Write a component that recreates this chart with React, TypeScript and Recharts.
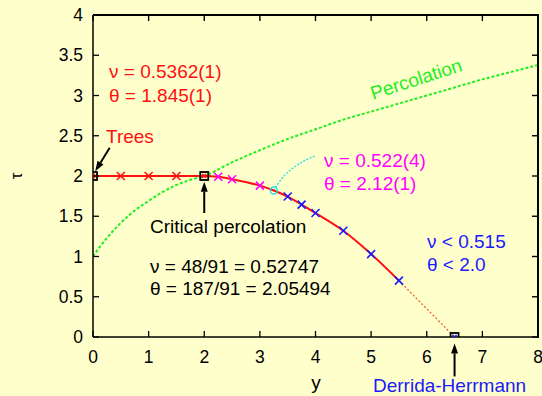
import React from "react";
import { ComposedChart, Line, XAxis, YAxis, ReferenceLine } from "recharts";

const BG = "#ffffcc";
const FONT = "'Liberation Sans', Arial, sans-serif";

const W = 542;
const H = 396;
const M = { top: 15, right: 4, bottom: 0, left: 0 };
const Y_AXIS_W = 93;
const X_AXIS_H = 59;
const PLOT_L = M.left + Y_AXIS_W;
const PLOT_T = M.top;
const PLOT_W = W - M.left - M.right - Y_AXIS_W;
const PLOT_H = H - M.top - M.bottom - X_AXIS_H;

// axis ticks
const xTicks = [0, 1, 2, 3, 4, 5, 6, 7, 8];
const yTicks = [0, 0.5, 1, 1.5, 2, 2.5, 3, 3.5, 4];
const X_MAX = 8;
const Y_MAX = 4;

// main red curve (trees -> critical percolation -> beyond)
const curveX = [0, 0.5, 1, 1.5, 2, 2.25, 2.5, 3, 3.25, 3.5, 3.75, 4, 4.5, 5, 5.5];
const curveY = [2, 2, 2, 2, 2, 1.99, 1.96, 1.88, 1.82, 1.745, 1.645, 1.54, 1.32, 1.03, 0.7];

// red dotted extrapolation to Derrida-Herrmann
const extrapX = [5.5, 6.5];
const extrapY = [0.7, 0];

// markers
const redCrossX = [0.5, 1, 1.5];
const redCrossY = [2, 2, 2];
const magentaCrossX = [2.25, 2.5, 3];
const magentaCrossY = [1.99, 1.96, 1.88];
const cyanX = [3.25];
const cyanY = [1.82];
const blueCrossX = [3.5, 3.75, 4, 4.5, 5, 5.5];
const blueCrossY = [1.745, 1.645, 1.54, 1.32, 1.03, 0.7];
const redSquareX = [0, 2];
const redSquareY = [2, 2];
const blueSquareX = [6.5];
const blueSquareY = [0];

// percolation line (green dotted)
const percX = [0, 0.1, 0.3, 0.66, 1.02, 1.38, 1.74, 2, 2.5, 3, 3.5, 4, 4.5, 5, 5.5, 6, 6.5, 7, 7.5, 8];
const percY = [1, 1.1, 1.27, 1.52, 1.7, 1.85, 1.95, 2, 2.17, 2.32, 2.46, 2.58, 2.7, 2.8, 2.9, 3.0, 3.1, 3.2, 3.29, 3.38];

// cyan annotation pointer
const cyanLineX = [3.25, 3.42, 3.66, 3.99];
const cyanLineY = [1.82, 1.99, 2.13, 2.25];

const toRows = (xs: number[], ys: number[]) => xs.map((x, i) => ({ x, y: ys[i] }));

const cross = (color: string) => (p: any) => {
  const { cx, cy, index } = p;
  if (cx == null || cy == null) return <g key={index} />;
  const s = 4;
  return (
    <g key={index} stroke={color} strokeWidth={1.6}>
      <line x1={cx - s} y1={cy - s} x2={cx + s} y2={cy + s} />
      <line x1={cx - s} y1={cy + s} x2={cx + s} y2={cy - s} />
    </g>
  );
};

const square = (color: string) => (p: any) => {
  const { cx, cy, index } = p;
  if (cx == null || cy == null) return <g key={index} />;
  return (
    <g key={index}>
      <rect x={cx - 4} y={cy - 4} width={8} height={8} fill="none" stroke="#000" strokeWidth={1.8} />
      <line x1={cx - 2} y1={cy - 2} x2={cx + 2} y2={cy + 2} stroke={color} strokeWidth={1.4} />
      <line x1={cx - 2} y1={cy + 2} x2={cx + 2} y2={cy - 2} stroke={color} strokeWidth={1.4} />
    </g>
  );
};

const circle = (color: string) => (p: any) => {
  const { cx, cy, index } = p;
  if (cx == null || cy == null) return <g key={index} />;
  return <circle key={index} cx={cx} cy={cy} r={3.5} fill="none" stroke={color} strokeWidth={1.4} />;
};

const arrow = (p: any) => {
  const { x1, y1, x2, y2 } = p;
  const a = Math.atan2(y2 - y1, x2 - x1);
  const L = 10;
  const HW = 3.5;
  const bx = x2 - L * Math.cos(a);
  const by = y2 - L * Math.sin(a);
  const nx = -Math.sin(a) * HW;
  const ny = Math.cos(a) * HW;
  return (
    <g>
      <line x1={x1} y1={y1} x2={bx} y2={by} stroke="#000" strokeWidth={2} />
      <polygon points={`${x2},${y2} ${bx + nx},${by + ny} ${bx - nx},${by - ny}`} fill="#000" />
    </g>
  );
};

const BottomTick = (p: any) => {
  const { x, y, payload } = p;
  return (
    <g>
      <line x1={x} x2={x} y1={y} y2={y - 6} stroke="#000" strokeWidth={1.3} />
      <text x={x} y={y + 26} textAnchor="middle" fontSize={17.5} fontFamily={FONT} fill="#000">
        {String(payload.value)}
      </text>
    </g>
  );
};

const LeftTick = (p: any) => {
  const { x, y, payload } = p;
  return (
    <g>
      <line x1={x} x2={x + 6} y1={y} y2={y} stroke="#000" strokeWidth={1.3} />
      <text x={x - 10} y={y + 6} textAnchor="end" fontSize={17.5} fontFamily={FONT} fill="#000">
        {String(payload.value)}
      </text>
    </g>
  );
};

const T = (props: any) => <text fontFamily={FONT} fontSize={19} {...props} />;

// inward mirror ticks on top and right, same linear mapping as the axes
const MirrorTicks = () => {
  const px = (v: number) => PLOT_L + (v / X_MAX) * PLOT_W;
  const py = (v: number) => PLOT_T + PLOT_H - (v / Y_MAX) * PLOT_H;
  const R = PLOT_L + PLOT_W;
  return (
    <g>
      {xTicks.map((t) => (
        <rect key={`t${t}`} x={px(t) - 0.7} y={PLOT_T} width={1.4} height={6} fill="#000" />
      ))}
      {yTicks.map((t) => (
        <rect key={`r${t}`} x={R - 6} y={py(t) - 0.7} width={6} height={1.4} fill="#000" />
      ))}
    </g>
  );
};

export default function App() {
  return (
    <div style={{ position: "fixed", left: 0, top: 0, width: W, height: H, background: BG }}>
      <ComposedChart width={W} height={H} margin={M}>
        <XAxis
          type="number"
          dataKey="x"
          domain={[0, X_MAX]}
          ticks={xTicks}
          allowDataOverflow
          height={X_AXIS_H}
          tickSize={0}
          tickMargin={0}
          tickLine={false}
          axisLine={{ stroke: "#000", strokeWidth: 1.5 }}
          tick={BottomTick}
          interval={0}
        />
        <YAxis
          type="number"
          domain={[0, Y_MAX]}
          ticks={yTicks}
          allowDataOverflow
          width={Y_AXIS_W}
          tickSize={0}
          tickMargin={0}
          tickLine={false}
          axisLine={{ stroke: "#000", strokeWidth: 1.5 }}
          tick={LeftTick}
          interval={0}
        />

        <Line
          data={toRows(percX, percY)}
          dataKey="y"
          type="monotone"
          stroke="#22ee22"
          strokeWidth={2}
          strokeDasharray="3 2"
          dot={false}
          isAnimationActive={false}
        />
        <Line
          data={toRows(cyanLineX, cyanLineY)}
          dataKey="y"
          type="monotone"
          stroke="#22ddee"
          strokeWidth={1.3}
          strokeDasharray="2 1.5"
          dot={false}
          isAnimationActive={false}
        />
        <Line
          data={toRows(extrapX, extrapY)}
          dataKey="y"
          type="linear"
          stroke="#ff5a2a"
          strokeWidth={1.3}
          strokeDasharray="2 2"
          dot={false}
          isAnimationActive={false}
        />
        <Line
          data={toRows(curveX, curveY)}
          dataKey="y"
          type="monotone"
          stroke="#ff1010"
          strokeWidth={2}
          dot={false}
          isAnimationActive={false}
        />
        <Line data={toRows(redCrossX, redCrossY)} dataKey="y" stroke="none" dot={cross("#ff1010")} isAnimationActive={false} />
        <Line data={toRows(magentaCrossX, magentaCrossY)} dataKey="y" stroke="none" dot={cross("#ff00ff")} isAnimationActive={false} />
        <Line data={toRows(cyanX, cyanY)} dataKey="y" stroke="none" dot={circle("#22ddee")} isAnimationActive={false} />
        <Line data={toRows(blueCrossX, blueCrossY)} dataKey="y" stroke="none" dot={cross("#1a1aff")} isAnimationActive={false} />
        <Line data={toRows(redSquareX, redSquareY)} dataKey="y" stroke="none" dot={square("#ff1010")} isAnimationActive={false} />
        <Line data={toRows(blueSquareX, blueSquareY)} dataKey="y" stroke="none" dot={square("#1a1aff")} isAnimationActive={false} />

        <ReferenceLine segment={[{ x: 0.3, y: 2.35 }, { x: 0.04, y: 2.06 }]} shape={arrow} ifOverflow="visible" />
        <ReferenceLine segment={[{ x: 2, y: 1.54 }, { x: 2, y: 1.93 }]} shape={arrow} ifOverflow="visible" />
        <ReferenceLine segment={[{ x: 6.5, y: -0.49 }, { x: 6.5, y: -0.08 }]} shape={arrow} ifOverflow="visible" />
      </ComposedChart>

      {/* top and right border of the plot box, drawn with CSS borders */}
      <div
        style={{
          position: "absolute",
          left: PLOT_L,
          top: PLOT_T - 1,
          width: PLOT_W - 1,
          height: PLOT_H,
          borderTop: "2px solid #000",
          borderRight: "2px solid #000",
          pointerEvents: "none",
        }}
      />

      <svg width={W} height={H} style={{ position: "absolute", left: 0, top: 0, pointerEvents: "none" }}>
        <MirrorTicks />
        <T x={109} y={78} fill="#ff1010">ν = 0.5362(1)</T>
        <T x={109} y={102} fill="#ff1010">θ = 1.845(1)</T>
        <T x={106} y={143} fill="#ff1010">Trees</T>
        <T x={150} y={233} fill="#000">Critical percolation</T>
        <T x={150} y={273} fill="#000">ν = 48/91 = 0.52747</T>
        <T x={150} y={295} fill="#000">θ = 187/91 = 2.05494</T>
        <T x={324} y={167} fill="#ff00ff">ν = 0.522(4)</T>
        <T x={324} y={190} fill="#ff00ff">θ = 2.12(1)</T>
        <T x={427} y={248} fill="#1a1aff">ν &lt; 0.515</T>
        <T x={427} y={271} fill="#1a1aff">θ &lt; 2.0</T>
        <T x={373} y={100} fill="#22ee22" transform="rotate(-18 373 100)">Percolation</T>
        <T x={373} y={392} fill="#1a1aff">Derrida-Herrmann</T>
        <T x={316} y={389} fill="#000" textAnchor="middle">y</T>
        <T x={22} y={176} fill="#000" textAnchor="middle" fontSize={17} transform="rotate(-90 22 176)">τ</T>
      </svg>
    </div>
  );
}
